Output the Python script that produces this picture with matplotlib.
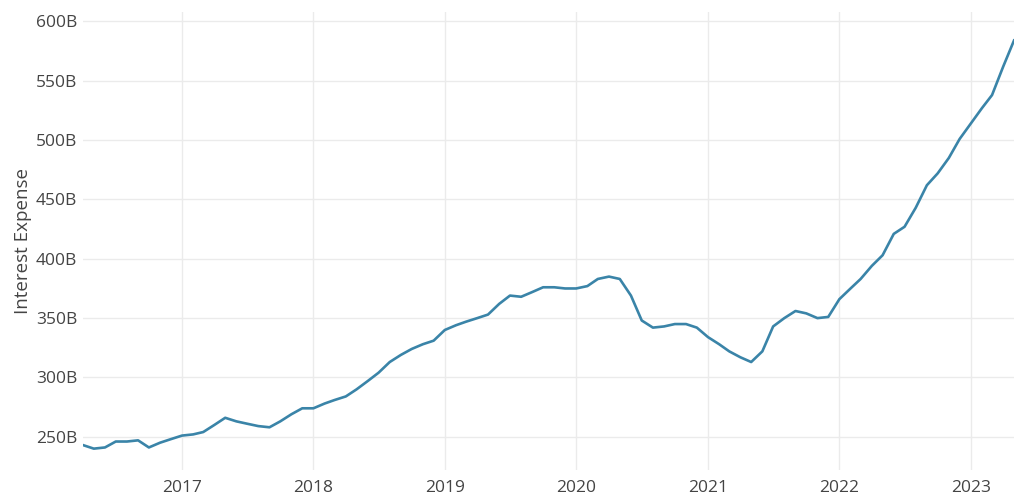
import matplotlib
matplotlib.use("Agg")
import matplotlib.pyplot as plt
import matplotlib.dates as mdates
import matplotlib.ticker as mticker
import pandas as pd

# monthly interest expense, billions (Apr 2016 - May 2023)
start_month = "2016-04-01"
expense = [243, 240, 241, 246, 246, 247, 241, 245, 248, 251, 252, 254,
           260, 266, 263, 261, 259, 258, 263, 269, 274, 274, 278, 281,
           284, 290, 297, 304, 313, 319, 324, 328, 331, 340, 344, 347,
           350, 353, 362, 369, 368, 372, 376, 376, 375, 375, 377, 383,
           385, 383, 369, 348, 342, 343, 345, 345, 342, 334, 328, 322,
           317, 313, 322, 343, 350, 356, 354, 350, 351, 366, 375, 383,
           394, 403, 421, 427, 443, 462, 472, 485, 501, 514, 527, 538,
           562, 584]
y_ticks = [250, 300, 350, 400, 450, 500, 550, 600]
year_ticks = ["2017", "2018", "2019", "2020", "2021", "2022", "2023"]

dates = pd.date_range(start_month, periods=len(expense), freq="MS")

plt.rcParams["font.family"] = ["Open Sans", "DejaVu Sans"]

fig = plt.figure(figsize=(10.14, 4.98), dpi=100)
ax = fig.add_axes([83 / 1014, 28 / 498, 931 / 1014, 458 / 498])

ax.plot(dates, expense, color="#3a84a8", linewidth=1.9, solid_joinstyle="round")

ax.set_xlim(dates[0], dates[-1])
ax.set_ylim(222, 608)

ax.set_yticks(y_ticks)
ax.yaxis.set_major_formatter(mticker.FuncFormatter(lambda v, p: f"{int(v)}B"))
ax.set_xticks([pd.Timestamp(y + "-01-01") for y in year_ticks])
ax.xaxis.set_major_formatter(mdates.DateFormatter("%Y"))

ax.grid(True, color="#ebebeb", linewidth=1)
ax.set_axisbelow(True)
for s in ax.spines.values():
    s.set_visible(False)
ax.tick_params(length=0, labelsize=12.5, colors="#444444")
ax.tick_params(axis="y", pad=4)
ax.tick_params(axis="x", pad=7)

ax.set_ylabel("Interest Expense", fontsize=13.5, color="#444444", labelpad=3)

fig.savefig("out.png", dpi=100)
